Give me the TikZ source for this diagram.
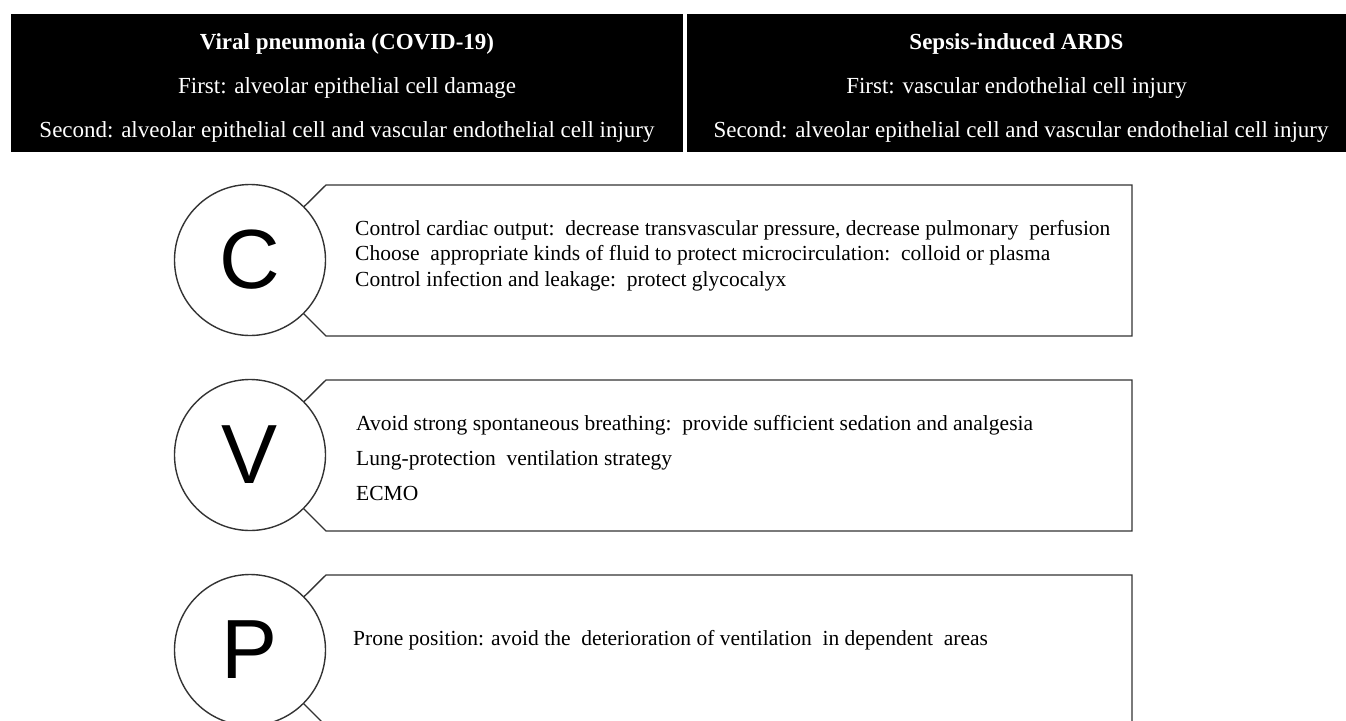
\documentclass[tikz,border=0pt]{standalone}
\usepackage{fontspec}
\setmainfont{Liberation Serif}
\newfontfamily\lsans{Liberation Sans}
\begin{document}
\begin{tikzpicture}[x=1pt,y=-1pt,
  hdr/.style={fill=black, draw=none, inner sep=0pt},
  hdrtext/.style={text=white, anchor=base, inner sep=0pt, font=\fontsize{23}{27}\selectfont},
  callout/.style={draw=black!80, line width=1.4pt, fill=white, line join=miter},
  letter/.style={circle, draw=black!80, line width=1.4pt, fill=white, minimum size=151pt, inner sep=0pt, font=\lsans\fontsize{84}{84}\selectfont},
  body/.style={anchor=base west, inner sep=0pt, font=\fontsize{21.5}{25}\selectfont}]
\useasboundingbox (0,0) rectangle (1346,720);
% header boxes
\node[hdr, minimum width=672pt, minimum height=138pt] (hl) at (347,83) {};
\node[hdr, minimum width=659pt, minimum height=138pt] (hr) at (1016.5,83) {};
\node[hdrtext] (hl1) at (347,49) {\bfseries Viral pneumonia (COVID-19)};
\node[hdrtext] (hl2) at (347,93) {First: alveolar epithelial cell damage};
\node[hdrtext] (hl3) at (347,137) {Second: alveolar epithelial cell and vascular endothelial cell injury};
\node[hdrtext] (hr1) at (1016.5,49) {\bfseries Sepsis-induced ARDS};
\node[hdrtext] (hr2) at (1016.5,93) {First: vascular endothelial cell injury};
\node[hdrtext] (hr3) at (1021,137) {Second: alveolar epithelial cell and vascular endothelial cell injury};
% C
\coordinate (c1) at (326,185); \coordinate (c2) at (1132,185);
\coordinate (c3) at (1132,336); \coordinate (c4) at (326,336);
\coordinate (ct) at (250,260);
\draw[callout] (c1) -- (c2) -- (c3) -- (c4) -- (ct) -- cycle;
\node[letter] (C) at (250,260) {C};
\node[body] (ca) at (355,235) {Control cardiac output:\ \ decrease transvascular pressure, decrease pulmonary\ \ perfusion};
\node[body] (cb) at (355,260) {Choose\ \ appropriate kinds of fluid to protect microcirculation:\ \ colloid or plasma};
\node[body] (cc) at (355,286) {Control infection and leakage:\ \ protect glycocalyx};
% V
\coordinate (v1) at (326,380); \coordinate (v2) at (1132,380);
\coordinate (v3) at (1132,531); \coordinate (v4) at (326,531);
\coordinate (vt) at (250,455);
\draw[callout] (v1) -- (v2) -- (v3) -- (v4) -- (vt) -- cycle;
\node[letter] (V) at (250,455) {V};
\node[body] (va) at (356,430) {Avoid strong spontaneous breathing:\ \ provide sufficient sedation and analgesia};
\node[body] (vb) at (356,465) {Lung-protection\ \ ventilation strategy};
\node[body] (vc) at (356,500) {ECMO};
% P
\coordinate (p1) at (326,575); \coordinate (p2) at (1132,575);
\coordinate (p3) at (1132,726); \coordinate (p4) at (326,726);
\coordinate (pt) at (250,650);
\draw[callout] (p1) -- (p2) -- (p3) -- (p4) -- (pt) -- cycle;
\node[letter] (P) at (250,650) {P};
\node[body] (pa) at (353,645) {Prone position: avoid the\ \ deterioration of ventilation\ \ in dependent\ \ areas};
\end{tikzpicture}
\end{document}
